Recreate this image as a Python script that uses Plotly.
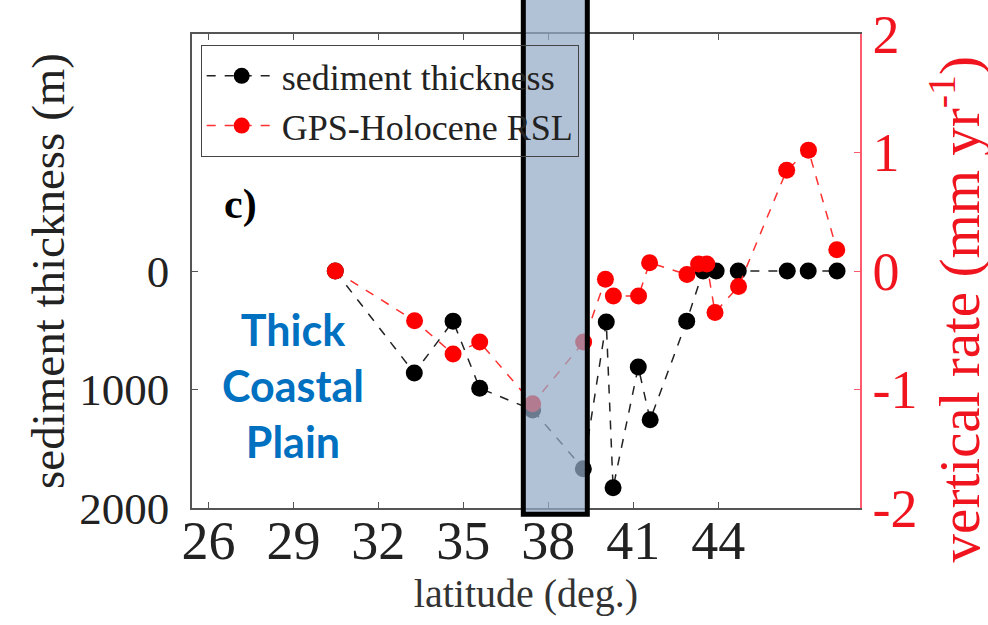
import plotly.graph_objects as go

# ---- data ----
latitude_sed = [30.48, 33.27, 34.64, 35.58, 37.45, 39.24, 40.05, 40.29, 41.18, 41.60,
                42.89, 43.47, 43.93, 44.71, 46.44, 47.18, 48.20]
sediment_m = [0, 861, 423, 989, 1172, 1669, 431, 1829, 810, 1256,
              423, 0, 0, 0, 0, 0, 0]

latitude_rsl = [30.48, 33.28, 34.64, 35.58, 37.45, 39.25, 40.02, 40.30, 41.19, 41.58,
                42.90, 43.31, 43.60, 43.89, 44.72, 46.42, 47.19, 48.19]
rsl_rate = [0.0, -0.42, -0.70, -0.60, -1.12, -0.60, -0.07, -0.21, -0.21, 0.07,
            -0.03, 0.06, 0.06, -0.35, -0.13, 0.85, 1.02, 0.18]

x_ticks = [26, 29, 32, 35, 38, 41, 44]
sed_ticks = [0, 1000, 2000]
rate_ticks = [-2, -1, 0, 1, 2]
rate_tick_text = ["-2", "-1", "0", "1", "2"]

highlight_lat = (37.12, 39.38)   # shaded latitude band

SERIF = "Liberation Serif"
RED = "rgb(240,20,30)"

fig = go.Figure()
fig.add_trace(go.Scatter(
    x=latitude_sed, y=sediment_m, name="sediment thickness",
    mode="lines+markers", yaxis="y",
    line=dict(color="#222222", width=1.5, dash="dash"),
    marker=dict(color="black", size=17),
))
fig.add_trace(go.Scatter(
    x=latitude_rsl, y=rsl_rate, name="GPS-Holocene RSL",
    mode="lines+markers", yaxis="y2",
    line=dict(color="#ff3030", width=1.5, dash="dash"),
    marker=dict(color="#ff0000", size=17),
))

fig.add_shape(type="rect", xref="x", yref="paper",
              x0=highlight_lat[0], x1=highlight_lat[1], y0=-0.013, y1=1.1,
              line=dict(color="black", width=5),
              fillcolor="rgba(148,171,198,0.72)", layer="above")

fig.add_annotation(text="<b>c)</b>", xref="paper", yref="paper",
                   x=0.072, y=0.64, xanchor="center", yanchor="middle", showarrow=False,
                   font=dict(family=SERIF, size=42, color="black"))
fig.add_annotation(text="<b>Thick<br>Coastal<br>Plain</b>", xref="paper", yref="paper",
                   x=0.151, y=0.259, xanchor="center", yanchor="middle",
                   showarrow=False, align="center",
                   font=dict(family="Lato", size=43, color="rgb(0,112,192)"))
# right-hand axis title (placed lower than the axis centre, as in the reference)
fig.add_annotation(text="vertical rate (mm yr<sup>-1</sup>)", xref="paper", yref="paper",
                   x=1.143, y=0.418, xanchor="center", yanchor="middle",
                   textangle=-90, showarrow=False,
                   font=dict(family=SERIF, size=57, color=RED))

fig.update_layout(
    width=988, height=625,
    margin=dict(l=192, r=128, t=34, b=117),
    paper_bgcolor="white", plot_bgcolor="white",
    showlegend=True,
    legend=dict(x=0.013, y=0.977, xanchor="left", yanchor="top",
                bgcolor="rgba(255,255,255,0)", bordercolor="#444444", borderwidth=1,
                font=dict(family=SERIF, size=36, color="#222222"),
                tracegroupgap=0, itemwidth=70),
    xaxis=dict(range=[25.42, 49.01], tickvals=x_ticks, showgrid=False, zeroline=False,
               automargin=False,
               showline=True, linecolor="#555555", linewidth=1.5, mirror="ticks",
               ticks="inside", ticklen=6, tickcolor="#555555", ticklabelstandoff=-16,
               tickfont=dict(family=SERIF, size=54, color="#222222"),
               title=dict(text="latitude (deg.)", font=dict(family=SERIF, size=40, color="#333333"),
                          standoff=4)),
    yaxis=dict(range=[2000, -2000], tickvals=sed_ticks, showgrid=False, zeroline=False,
               automargin=False,
               showline=True, linecolor="#555555", linewidth=1.5,
               ticks="inside", ticklen=6, tickcolor="#555555", ticklabelstandoff=12,
               tickfont=dict(family=SERIF, size=45, color="#222222"),
               title=dict(text="sediment thickness (m)", font=dict(family=SERIF, size=47, color="#222222"),
                          standoff=0)),
    yaxis2=dict(range=[-2, 2], tickvals=rate_ticks, ticktext=rate_tick_text,
                overlaying="y", side="right", automargin=False,
                showgrid=False, zeroline=False,
                showline=True, linecolor="rgb(255,90,110)", linewidth=1.5,
                ticks="inside", ticklen=6, tickcolor="rgb(255,90,110)",
                tickfont=dict(family=SERIF, size=54, color=RED)),
)

fig.write_html("out.html")
